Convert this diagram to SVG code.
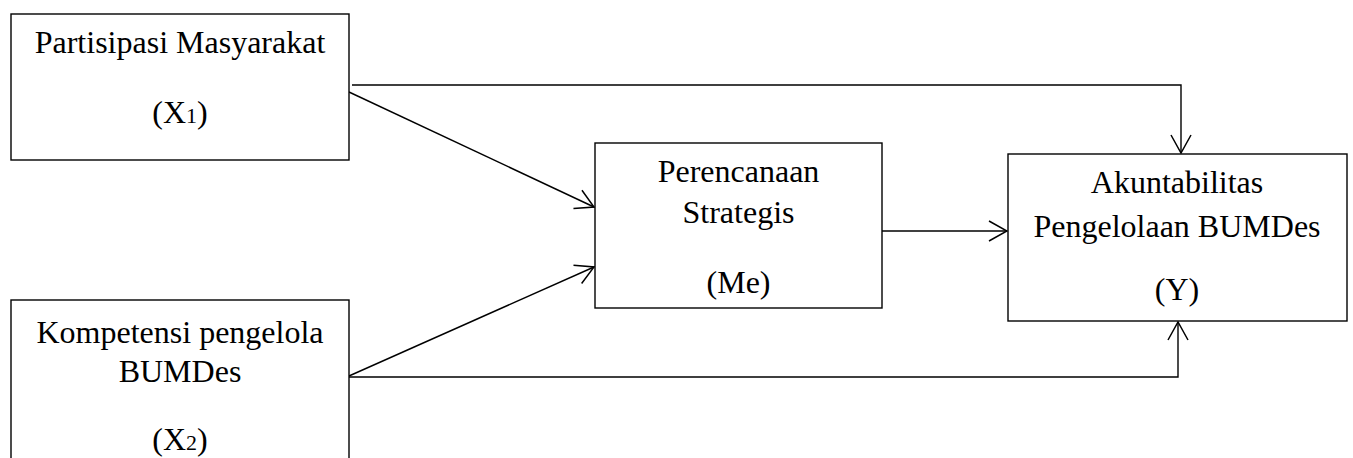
<svg xmlns="http://www.w3.org/2000/svg" width="1353" height="458" viewBox="0 0 1353 458">
<style>
.box{fill:#fff;stroke:#000;stroke-width:1.4}
.t{font-family:"Liberation Serif","Times New Roman",serif;font-size:32px;fill:#000;text-anchor:middle}
.sub{font-size:22px}
.c{fill:none;stroke:#000;stroke-width:1.4}
</style>
<defs>
<marker id="ah" viewBox="0 0 20 22" refX="19" refY="11" markerWidth="20" markerHeight="22" markerUnits="userSpaceOnUse" orient="auto">
<path d="M1,1 L19,11 L1,21" fill="none" stroke="#000" stroke-width="1.5"/>
</marker>
</defs>
<rect width="1353" height="458" fill="#fff"/>
<g id="connectors">
<polyline class="c" points="352,85 1181,85 1181,153" marker-end="url(#ah)"/>
<line class="c" x1="349" y1="92" x2="594" y2="207" marker-end="url(#ah)"/>
<line class="c" x1="349" y1="376" x2="594" y2="267" marker-end="url(#ah)"/>
<polyline class="c" points="349,377 1178,377 1178,322" marker-end="url(#ah)"/>
<line class="c" x1="882" y1="231" x2="1007" y2="231" marker-end="url(#ah)"/>
</g>
<g id="x1">
<rect class="box" x="11" y="14" width="338" height="146"/>
<text class="t" x="180" y="53">Partisipasi Masyarakat</text>
<text class="t" x="180" y="123">(X<tspan class="sub">1</tspan>)</text>
</g>
<g id="x2">
<rect class="box" x="11" y="300" width="338" height="170"/>
<text class="t" x="180" y="343">Kompetensi pengelola</text>
<text class="t" x="180" y="382">BUMDes</text>
<text class="t" x="180" y="450">(X<tspan class="sub">2</tspan>)</text>
</g>
<g id="me">
<rect class="box" x="595" y="143" width="287" height="165"/>
<text class="t" x="738.5" y="182">Perencanaan</text>
<text class="t" x="738.5" y="223">Strategis</text>
<text class="t" x="738.5" y="293">(Me)</text>
</g>
<g id="y">
<rect class="box" x="1008" y="154" width="339" height="167"/>
<text class="t" x="1177" y="193">Akuntabilitas</text>
<text class="t" x="1177" y="237">Pengelolaan BUMDes</text>
<text class="t" x="1177" y="300">(Y)</text>
</g>
</svg>
